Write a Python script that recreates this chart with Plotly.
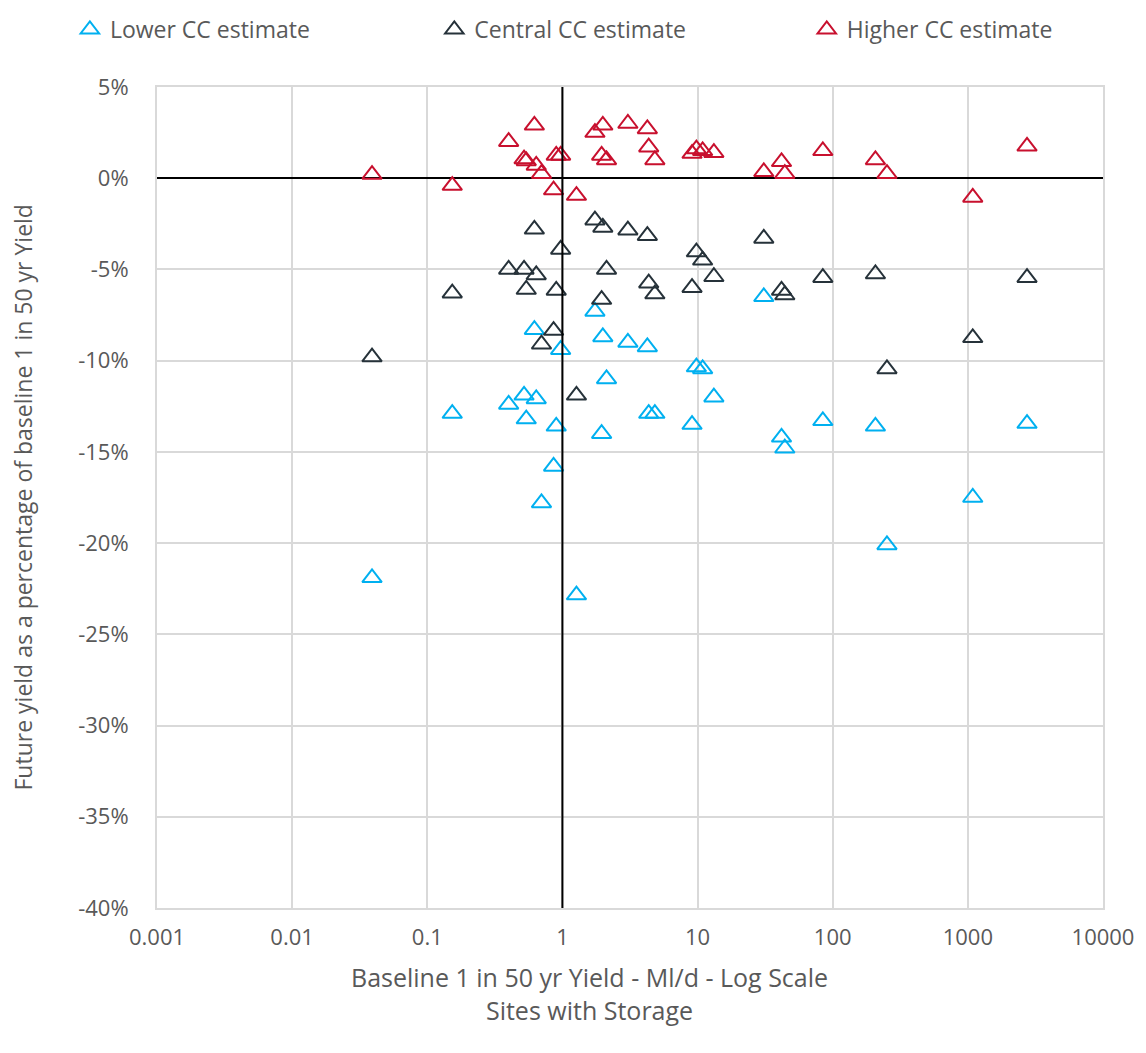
import plotly.graph_objects as go

# Baseline 1 in 50 yr yield (Ml/d) per site
site_yield = [0.039, 0.153, 0.40, 0.52, 0.54, 0.62, 0.64, 0.70, 0.86, 0.90, 0.97,
              1.27, 1.74, 1.99, 3.05, 4.25, 1.95, 2.12, 4.35, 4.83, 9.1, 9.8,
              10.9, 13.2, 30.9, 41.8, 44.2, 84.5, 207, 252, 1087, 2740]

lower_cc = [-21.9, -12.9, -12.4, -11.9, -13.2, -8.3, -12.1, -17.8, -15.8, -13.6, -9.4,
            -22.85, -7.3, -8.7, -9.0, -9.25, -14.0, -11.0, -12.9, -12.9, -13.5, -10.35,
            -10.45, -12.0, -6.5, -14.2, -14.8, -13.3, -13.6, -20.1, -17.5, -13.45]

central_cc = [-9.8, -6.3, -5.0, -5.0, -6.1, -2.8, -5.3, -9.1, -8.35, -6.15, -3.9,
              -11.9, -2.3, -2.7, -2.85, -3.15, -6.65, -5.0, -5.75, -6.35, -6.0, -4.05,
              -4.5, -5.4, -3.3, -6.15, -6.4, -5.45, -5.25, -10.45, -8.75, -5.45]

higher_cc = [0.2, -0.4, 2.0, 1.05, 0.95, 2.9, 0.7, 0.25, -0.65, 1.25, 1.25,
             -0.95, 2.5, 2.9, 3.0, 2.7, 1.25, 1.0, 1.7, 1.0, 1.35, 1.6,
             1.5, 1.4, 0.35, 0.9, 0.25, 1.5, 1.0, 0.25, -1.05, 1.75]

series_names = ["Lower CC estimate", "Central CC estimate", "Higher CC estimate"]
series_colors = ["#00B0F0", "#26323A", "#C8102E"]

x_tickvals = [0.001, 0.01, 0.1, 1, 10, 100, 1000, 10000]
x_ticktext = ["0.001", "0.01", "0.1", "1", "10", "100", "1000", "10000"]
y_tickvals = [5, 0, -5, -10, -15, -20, -25, -30, -35, -40]
y_ticktext = ["5%", "0%", "-5%", "-10%", "-15%", "-20%", "-25%", "-30%", "-35%", "-40%"]

x_title = "Baseline 1 in 50 yr Yield - Ml/d - Log Scale<br>Sites with Storage"
y_title = "Future yield as a percentage of baseline 1 in 50 yr Yield"

FONT = "Open Sans"
GREY = "#595959"

legend_ids = ["legend", "legend2", "legend3"]
legend_x = [0.054, 0.372, 0.697]

fig = go.Figure()
for name, vals, col, lg in zip(series_names, [lower_cc, central_cc, higher_cc],
                               series_colors, legend_ids):
    fig.add_trace(go.Scatter(
        x=site_yield, y=vals, mode="markers", name=name, legend=lg,
        marker=dict(symbol="triangle-up-open", size=17, color=col,
                    line=dict(width=2, color=col)),
    ))

# x = 1 vertical axis line
fig.add_shape(type="line", xref="x", yref="paper", x0=1, x1=1, y0=0, y1=1,
              line=dict(color="black", width=2), layer="above")

legend_common = dict(orientation="h", xref="container", yref="container",
                     y=1.0, xanchor="left", yanchor="top",
                     font=dict(size=23, color=GREY, family=FONT),
                     itemclick=False, borderwidth=0, bgcolor="rgba(0,0,0,0)")

layout_kwargs = {}
for lg, lx in zip(legend_ids, legend_x):
    layout_kwargs[lg] = dict(legend_common, x=lx)

fig.update_layout(
    width=1146, height=1053,
    margin=dict(l=149, r=51, t=79, b=153, autoexpand=False),
    paper_bgcolor="white", plot_bgcolor="white",
    font=dict(family=FONT, color=GREY, size=18),
    showlegend=True,
    xaxis=dict(type="log", range=[-3, 4], tickvals=x_tickvals, ticktext=x_ticktext,
               showgrid=True, gridcolor="#D9D9D9", gridwidth=2,
               showline=True, linecolor="#D9D9D9", linewidth=2, mirror=True,
               ticks="", ticklabelstandoff=9,
               tickfont=dict(size=22, color=GREY, family=FONT)),
    yaxis=dict(range=[-40, 5], tickvals=y_tickvals, ticktext=y_ticktext,
               showgrid=True, gridcolor="#D9D9D9", gridwidth=2,
               showline=True, linecolor="#D9D9D9", linewidth=2, mirror=True,
               zeroline=True, zerolinecolor="black", zerolinewidth=2,
               ticks="", ticklabelstandoff=22,
               tickfont=dict(size=22, color=GREY, family=FONT)),
    annotations=[
        dict(text=x_title,
             xref="paper", yref="paper", x=0.4577, y=-(950 - 900) / 821,
             xanchor="center", yanchor="top", showarrow=False,
             font=dict(size=25, color=GREY, family=FONT)),
        dict(text=y_title,
             xref="paper", yref="paper", x=-0.1427, y=0.5, textangle=-90,
             xanchor="center", yanchor="middle", showarrow=False,
             font=dict(size=23, color=GREY, family=FONT)),
    ],
    **layout_kwargs,
)

fig.write_html("out.html")
